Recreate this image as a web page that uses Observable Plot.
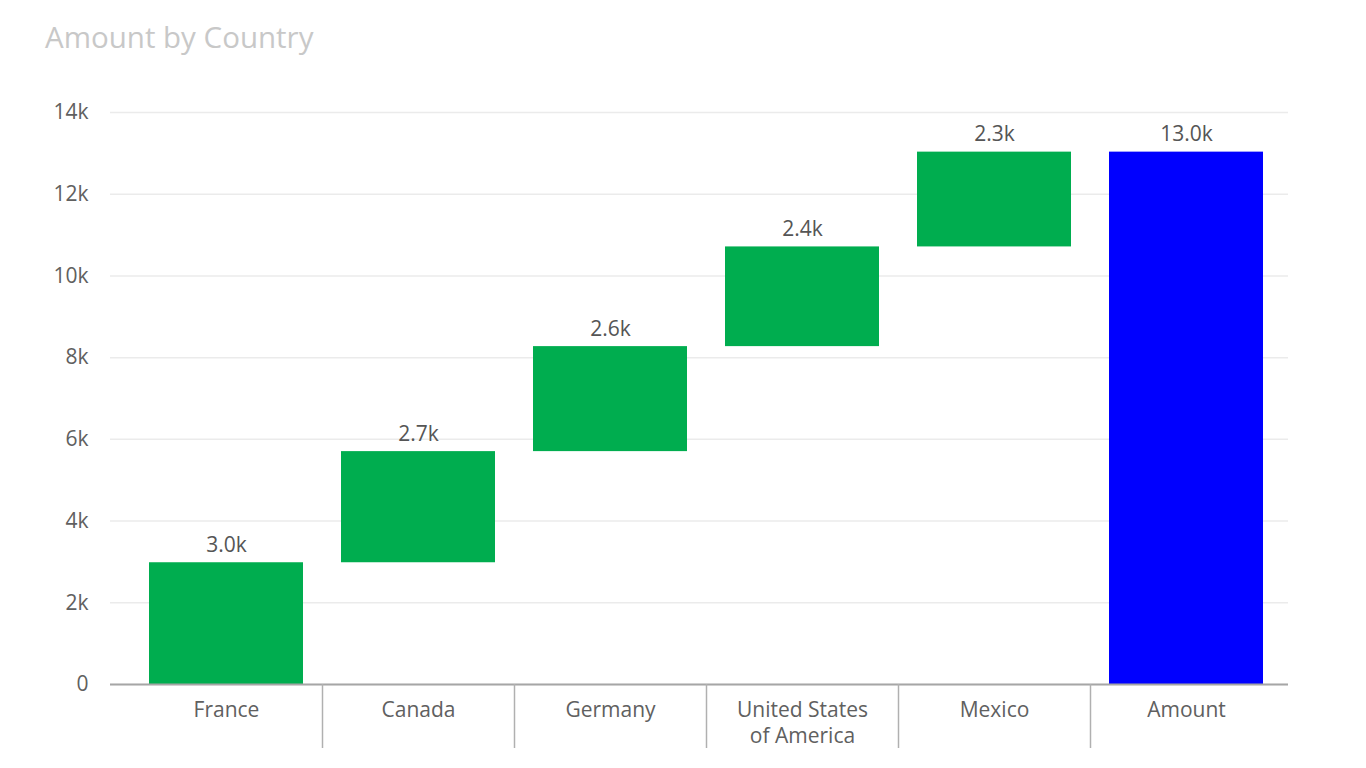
<!DOCTYPE html>
<html><head><meta charset="utf-8">
<script src="https://cdn.jsdelivr.net/npm/d3@7"></script>
<script src="https://cdn.jsdelivr.net/npm/@observablehq/plot@0.6"></script>
<style>
body{margin:0;background:#fff;font-family:"Open Sans","Segoe UI",sans-serif;}
#title{height:75px;box-sizing:border-box;padding:20px 0 0 45px;font-size:29.5px;line-height:34px;color:#c8c8c8;}
#chart svg{display:block;}
</style></head><body>
<div id="title">Amount by Country</div>
<div id="chart"></div>
<script>
const categories = ["France", "Canada", "Germany", "United States of America", "Mexico"];
const amounts = [2980, 2720, 2570, 2440, 2320];
const totalName = "Amount";
const xTickLabels = ["France", "Canada", "Germany", "United States\nof America", "Mexico", "Amount"];
const yTicks = [0, 2000, 4000, 6000, 8000, 10000, 12000, 14000];

let cum = 0;
const rows = categories.map((c, i) => {
  const start = cum; cum += amounts[i];
  return {cat: c, start, end: cum, value: amounts[i], kind: "step"};
});
rows.push({cat: totalName, start: 0, end: cum, value: cum, kind: "total"});
const allCats = rows.map(d => d.cat);
const labelOf = new Map(allCats.map((c, i) => [c, xTickLabels[i]]));
const fmtK = v => (v / 1000).toFixed(1) + "k";
const fmtTick = v => v === 0 ? "0" : (v / 1000) + "k";

function build(step) {
  const marks = [
    Plot.gridY(yTicks, {stroke: "#ebebeb", strokeOpacity: 1, strokeWidth: 1.5}),
    Plot.axisY(yTicks, {tickSize: 0, tickPadding: 22, tickFormat: fmtTick, fontSize: 21, color: "#606060", label: null}),
    Plot.barY(rows, {x: "cat", y1: "start", y2: "end", fill: "kind"}),
    Plot.text(rows, {x: "cat", y: "end", text: d => fmtK(d.value), lineAnchor: "bottom", dy: -11, fontSize: 21, fill: "#555"}),
    Plot.ruleY([0], {stroke: "#a6a6a6", strokeWidth: 2}),
    Plot.axisX({tickSize: 0, tickPadding: 14, fontSize: 21, color: "#606060", lineHeight: 1.25, label: null, tickFormat: c => labelOf.get(c)})
  ];
  if (step != null) {
    marks.push(Plot.ruleX(allCats.slice(1), {x: d => d, y1: 0, y2: 0, dx: -step / 2, insetBottom: -64, stroke: "#b0b0b0", strokeWidth: 1.5}));
  }
  return Plot.plot({
    width: 1366, height: 693,
    marginLeft: 110, marginRight: 78, marginTop: 37, marginBottom: 84,
    style: {fontFamily: '"Open Sans","Segoe UI",sans-serif', background: "#fff", overflow: "visible"},
    x: {domain: allCats, paddingInner: 0.2, paddingOuter: 0.1, insetLeft: 20, insetRight: 6, axis: null, label: null},
    y: {domain: [0, 14000], axis: null, label: null},
    color: {domain: ["step", "total"], range: ["#00ad4f", "#0000ff"]},
    marks
  });
}
const first = build(null);
const step = first.scale("x").step;
document.getElementById("chart").append(build(step));
</script>
</body></html>
